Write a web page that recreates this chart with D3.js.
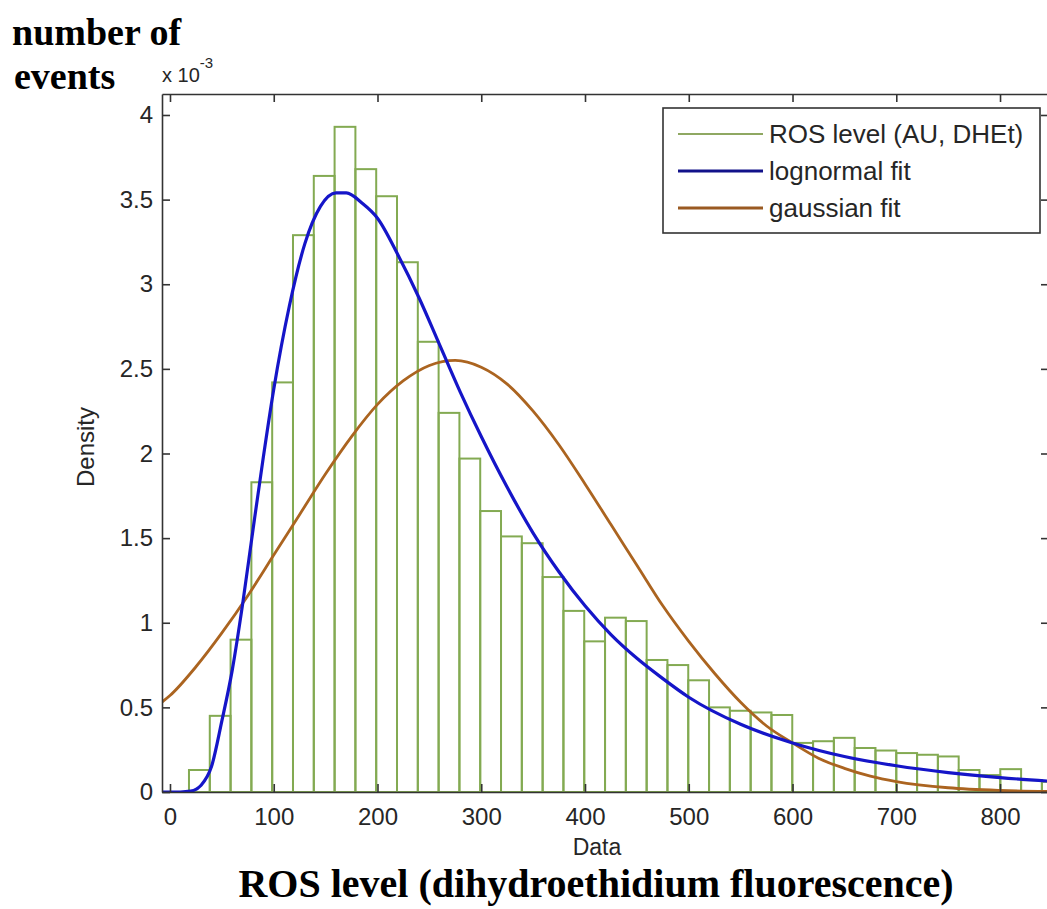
<!DOCTYPE html>
<html>
<head>
<meta charset="utf-8">
<script src="https://cdn.jsdelivr.net/npm/d3@7"></script>
<style>
  body { margin: 0; background: #fff; }
  svg { display: block; }
</style>
</head>
<body>
<div class="container"></div>
<script>
const width = 1047;
const height = 909;

// histogram, density in units of 1e-3, equal bins
const binStart = 18.3;
const binWidth = 20.05;
const density = [0.13, 0.45, 0.90, 1.83, 2.42, 3.29, 3.64, 3.93, 3.68, 3.52,
                 3.13, 2.66, 2.24, 1.97, 1.66, 1.51, 1.47, 1.27, 1.07, 0.89,
                 1.03, 1.01, 0.78, 0.75, 0.66, 0.50, 0.48, 0.47, 0.455, 0.29,
                 0.30, 0.32, 0.26, 0.245, 0.23, 0.22, 0.21, 0.13, 0.10, 0.135,
                 0.07, 0.06];

// fitted curves
const lognormalX = [-8, 10, 20, 30, 40, 50, 60, 70, 80, 90, 100, 115, 130, 145, 160, 170,
                    185, 200, 220, 240, 260, 280, 300, 325, 350, 375, 400, 425, 450, 475,
                    500, 550, 600, 650, 700, 750, 800, 850];
const lognormalY = [0, 0, 0.005, 0.04, 0.15, 0.42, 0.72, 1.11, 1.55, 1.98, 2.38, 2.87, 3.24, 3.46, 3.54, 3.54,
                    3.48, 3.39, 3.17, 2.92, 2.64, 2.36, 2.10, 1.80, 1.53, 1.30, 1.10, 0.93, 0.79, 0.67,
                    0.56, 0.40, 0.29, 0.21, 0.155, 0.115, 0.085, 0.063];

const gaussianX = [-8, 0, 25, 50, 75, 100, 125, 150, 175, 200, 225, 250, 275, 300, 325, 350,
                   375, 400, 425, 450, 475, 500, 525, 550, 575, 600, 625, 650, 675, 700, 750, 800, 850];
const gaussianY = [0.53, 0.57, 0.74, 0.94, 1.16, 1.40, 1.64, 1.88, 2.10, 2.29, 2.43, 2.52, 2.55, 2.51, 2.41, 2.25,
                   2.05, 1.82, 1.58, 1.34, 1.10, 0.89, 0.70, 0.53, 0.39, 0.29, 0.20, 0.14, 0.094, 0.062, 0.025, 0.009, 0.003];

const xTicks = [0, 100, 200, 300, 400, 500, 600, 700, 800];
const yTicks = [0, 0.5, 1, 1.5, 2, 2.5, 3, 3.5, 4];
const legendLabels = ["ROS level (AU, DHEt)", "lognormal fit", "gaussian fit"];
const legendColors = ["#8fa862", "#12128a", "#9a5a22"];

const plotLeft = 162, plotRight = 1049, plotTop = 94, plotBottom = 792;

const x = d3.scaleLinear().domain([-7.7, 847.2]).range([plotLeft, plotRight]);
const y = d3.scaleLinear().domain([0, 4.124]).range([plotBottom, plotTop]);

const svg = d3.select(".container")
  .append("svg")
    .attr("width", width)
    .attr("height", height)
    .style("font-family", "'Liberation Sans', Arial, sans-serif");

svg.append("defs").append("clipPath")
    .attr("id", "plot")
  .append("rect")
    .attr("x", plotLeft).attr("y", plotTop)
    .attr("width", plotRight - plotLeft).attr("height", plotBottom - plotTop);

const plot = svg.append("g").attr("clip-path", "url(#plot)");

// bars
plot.append("g")
  .selectAll("rect")
  .data(density)
  .join("rect")
    .attr("x", (d, i) => x(binStart + i * binWidth))
    .attr("width", x(binWidth) - x(0))
    .attr("y", d => y(d))
    .attr("height", d => y(0) - y(d))
    .attr("fill", "none")
    .attr("stroke", "#83aa52")
    .attr("stroke-width", 2);

const line = d3.line()
    .x(d => x(d[0]))
    .y(d => y(d[1]))
    .curve(d3.curveMonotoneX);

plot.append("path")
    .datum(d3.zip(gaussianX, gaussianY))
    .attr("d", line)
    .attr("fill", "none")
    .attr("stroke", "#ab6420")
    .attr("stroke-width", 2.8);

plot.append("path")
    .datum(d3.zip(lognormalX, lognormalY))
    .attr("d", line)
    .attr("fill", "none")
    .attr("stroke", "#1515c8")
    .attr("stroke-width", 3.2);

// axes, ticks pointing inward
const styleAxis = g => {
  g.selectAll("path, line").attr("stroke", "#333").attr("stroke-width", 1.6);
  g.selectAll("text").attr("fill", "#262626").style("font-size", "24px").style("font-family", "'Liberation Sans', Arial, sans-serif");
};

svg.append("g")
    .attr("transform", `translate(0,${plotBottom})`)
    .call(d3.axisBottom(x).tickValues(xTicks).tickSize(-8).tickSizeOuter(0).tickPadding(16))
    .call(styleAxis);

svg.append("g")
    .attr("transform", `translate(0,${plotTop})`)
    .call(d3.axisTop(x).tickValues(xTicks).tickSize(-8).tickSizeOuter(0).tickFormat(""))
    .call(styleAxis);

svg.append("g")
    .attr("transform", `translate(${plotLeft},0)`)
    .call(d3.axisLeft(y).tickValues(yTicks).tickSize(-8).tickSizeOuter(0).tickPadding(9).tickFormat(d => String(d)))
    .call(styleAxis);

svg.append("g")
    .attr("transform", `translate(${plotRight},0)`)
    .call(d3.axisRight(y).tickValues(yTicks).tickSize(-8).tickSizeOuter(0).tickFormat(""))
    .call(styleAxis);

// exponent label
const expo = svg.append("text")
    .attr("x", 162).attr("y", 82)
    .attr("fill", "#262626")
    .style("font-size", "20px");
expo.append("tspan").text("x 10");
expo.append("tspan").attr("dy", -14).style("font-size", "15px").text("-3");

// axis labels
svg.append("text")
    .attr("transform", "translate(94,447) rotate(-90)")
    .attr("text-anchor", "middle")
    .attr("fill", "#262626")
    .style("font-size", "24px")
    .text("Density");

svg.append("text")
    .attr("x", 597).attr("y", 855)
    .attr("text-anchor", "middle")
    .attr("fill", "#262626")
    .style("font-size", "23px")
    .text("Data");

// added titles
const serif = "'Liberation Serif', 'Times New Roman', serif";
svg.append("text")
    .attr("x", 12).attr("y", 45)
    .style("font-family", serif).style("font-weight", "bold").style("font-size", "38px")
    .text("number of");
svg.append("text")
    .attr("x", 14).attr("y", 89)
    .style("font-family", serif).style("font-weight", "bold").style("font-size", "38px")
    .text("events");
svg.append("text")
    .attr("x", 596).attr("y", 897)
    .attr("text-anchor", "middle")
    .style("font-family", serif).style("font-weight", "bold").style("font-size", "40px")
    .text("ROS level (dihydroethidium fluorescence)");

// legend
const legend = svg.append("g");
legend.append("rect")
    .attr("x", 663).attr("y", 108)
    .attr("width", 377).attr("height", 125)
    .attr("fill", "#fff")
    .attr("stroke", "#333")
    .attr("stroke-width", 1.6);

const rows = legend.selectAll("g.row")
  .data(legendLabels)
  .join("g")
    .attr("class", "row")
    .attr("transform", (d, i) => `translate(0,${134 + i * 37})`);

rows.append("line")
    .attr("x1", 678).attr("x2", 763)
    .attr("stroke", (d, i) => legendColors[i])
    .attr("stroke-width", (d, i) => i === 0 ? 2 : 3);

rows.append("text")
    .attr("x", 769).attr("dy", "0.35em")
    .attr("fill", "#262626")
    .style("font-size", "26px")
    .text(d => d);
</script>
</body>
</html>
